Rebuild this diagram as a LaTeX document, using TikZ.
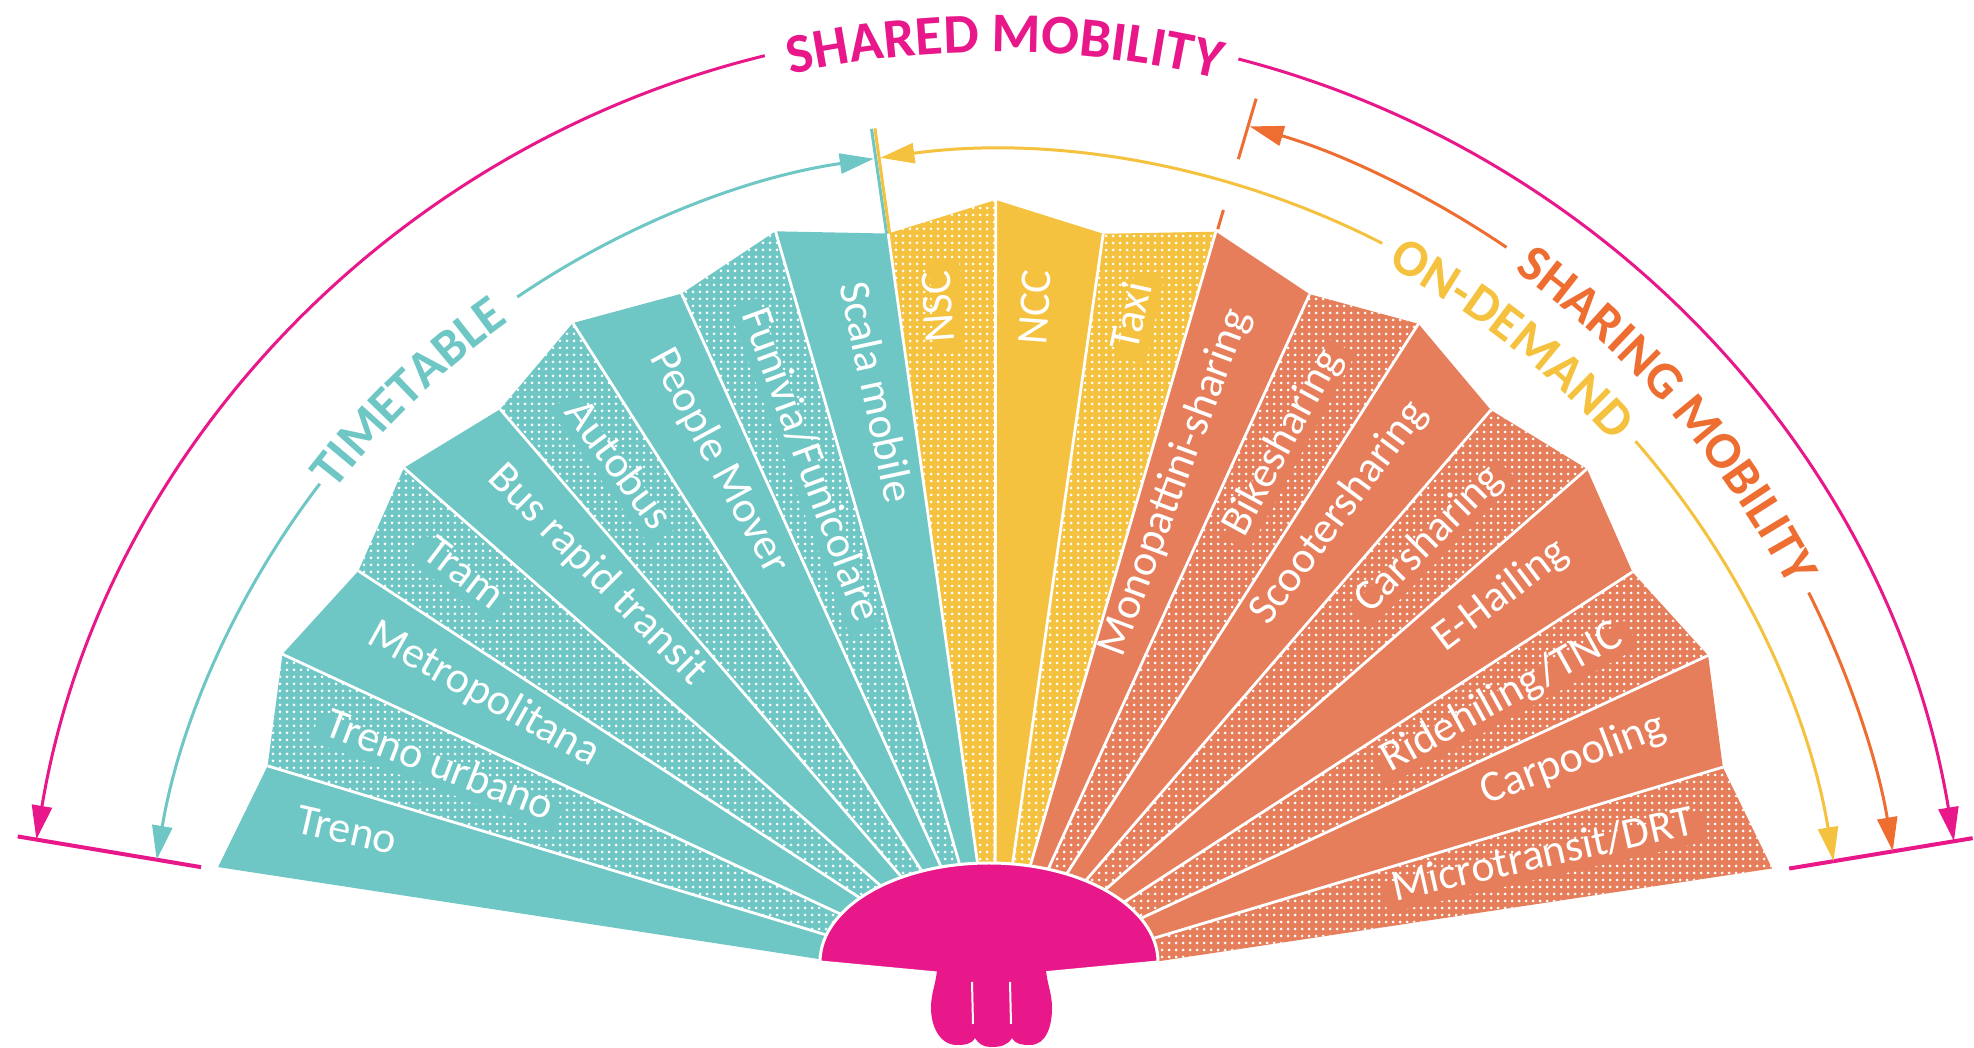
\documentclass[tikz,border=0pt]{standalone}
\usepackage{fontspec}
\setmainfont{Carlito}
\usepackage{tikz}
\usetikzlibrary{arrows.meta,calc,patterns.meta,decorations.text}
\definecolor{fan-tt}{RGB}{110,198,197}
\definecolor{fan-od}{RGB}{245,194,63}
\definecolor{fan-sh}{RGB}{230,126,91}
\definecolor{fan-sm}{RGB}{238,109,49}
\definecolor{fan-mg}{RGB}{232,23,138}
\newcommand{\titlefont}{\fontsize{28}{30}\selectfont\bfseries}
\newcommand{\headfont}{\fontsize{26}{28}\selectfont\bfseries}
\tikzstyle{dotblade}=[postaction={pattern={Dots[distance=3.5pt,radius=0.75pt]},pattern color=white}]
\tikzstyle{gap}=[draw=white,line width=1.4pt]
\tikzstyle{lbl}=[text=white,inner xsep=5pt,inner ysep=3pt,text height=0.7em,text depth=0.2em,font=\fontsize{22}{24}\selectfont]
\tikzstyle{reach}=[line width=1.5pt,-{Triangle[length=17pt,width=10pt]}]
\tikzstyle{tick}=[line width=1.5pt]
\tikzstyle{curved}=[decorate,decoration={text along path,text align=center}]

\begin{document}
\begin{tikzpicture}[x=0.5pt,y=0.5pt]
  \useasboundingbox (0,0) rectangle (1974,1048);
  \coordinate (c) at (995,62);
  \coordinate (o) at (995,48);

  % Blades
  \begin{scope}
    \clip (0,1048) -- (0,86) -- (820,86) -- (990,70) -- (1158,86) -- (1974,86) -- (1974,1048) -- cycle;
    \foreach \name/\col [count=\i from 0] in {Treno/fan-tt, Treno urbano/fan-tt, Metropolitana/fan-tt, Tram/fan-tt, Bus rapid transit/fan-tt, Autobus/fan-tt, People Mover/fan-tt, Funivia\slash Funicolare/fan-tt, Scala mobile/fan-tt, NSC/fan-od, NCC/fan-od, Taxi/fan-od, Monopattini-sharing/fan-sh, Bikesharing/fan-sh, Scootersharing/fan-sh, Carsharing/fan-sh, E-Hailing/fan-sh, Ridehiling\slash TNC/fan-sh, Carpooling/fan-sh, Microtransit\slash DRT/fan-sh} {
      \pgfmathsetmacro{\angA}{171.3-8.135*\i}
      \pgfmathsetmacro{\angB}{\angA-8.135}
      \pgfmathsetmacro{\angM}{\angA-4.0675}
      \pgfmathsetmacro{\radA}{isodd(\i) ? 760 : 786}
      \pgfmathsetmacro{\radB}{isodd(\i) ? 786 : 760}
      \ifodd\i
        \fill[\col,dotblade] (c) -- ($(c)+(\angA:\radA)$) -- ($(c)+(\angB:\radB)$) -- cycle;
      \else
        \fill[\col] (c) -- ($(c)+(\angA:\radA)$) -- ($(c)+(\angB:\radB)$) -- cycle;
      \fi
      \ifnum\i<9
        \node[lbl,fill=\col,anchor=west,rotate=\angM+180] (blade\i) at ($(c)+(\angM:728)$) {\name};
      \else
        \node[lbl,fill=\col,anchor=east,rotate=\angM] (blade\i) at ($(c)+(\angM:728)$) {\name};
      \fi
    }
    \foreach \i in {1,...,19} {
      \pgfmathsetmacro{\angA}{171.3-8.135*\i}
      \pgfmathsetmacro{\radA}{isodd(\i) ? 760 : 786}
      \draw[gap] (c) -- ($(c)+(\angA:\radA)$);
    }
  \end{scope}

  % Hub and handle
  \fill[fan-mg,draw=white,line width=1.5pt] (820,86) arc[start angle=180,end angle=0,x radius=169,y radius=99] -- (990,70) -- cycle;
  \fill[fan-mg] (937,78) to[out=-95,in=90] (931,40) to[out=-90,in=180] (957,3) to[out=0,in=-120] (975,10) to[out=-60,in=180] (991,1) to[out=0,in=-120] (1012,10) to[out=-60,in=180] (1030,3) to[out=0,in=-90] (1052,40) to[out=90,in=-85] (1046,78) -- cycle;
  \draw[white,line width=1pt] (972,66) -- (973,24);
  \draw[white,line width=1pt] (1010,66) -- (1011,24);

  % Ticks
  \draw[tick,fan-tt] ($(c)+(98.2:760)$) -- ($(c)+(98.2:866)$);
  \draw[tick,fan-od] ($(c)+(97.97:760)$) -- ($(c)+(97.97:866)$);
  \draw[tick,fan-sm] ($(c)+(73.6:862)$) -- ($(c)+(73.6:925)$);
  \draw[tick,fan-sm] ($(c)+(73.6:789)$) -- ($(c)+(73.6:809)$);
  \draw[fan-mg,line width=2pt] ($(o)+(170.5:805)$) -- ($(o)+(170.5:991)$);
  \draw[fan-mg,line width=2pt] ($(o)+(9.4:805)$) -- ($(o)+(9.4:991)$);

  % Shared mobility
  \draw[reach,fan-mg] ($(o)+(103.7:972)$) arc[start angle=103.7,end angle=170.5,radius=972];
  \draw[reach,fan-mg] ($(o)+(75.5:972)$) arc[start angle=75.5,end angle=9.4,radius=972];
  % Timetable
  \draw[reach,fan-tt] ($(o)+(142.6:850)$) arc[start angle=142.6,end angle=170.5,radius=850];
  \draw[reach,fan-tt] ($(o)+(124.2:850)$) arc[start angle=124.2,end angle=98.2,radius=850];
  % On-demand
  \draw[reach,fan-od] ($(o)+(62.9:850)$) arc[start angle=62.9,end angle=97.75,radius=850];
  \draw[reach,fan-od] ($(o)+(41.1:850)$) arc[start angle=41.1,end angle=9.4,radius=850];
  % Sharing mobility
  \draw[reach,fan-sm] ($(o)+(55.8:910)$) arc[start angle=55.8,end angle=73.75,radius=910];
  \draw[reach,fan-sm] ($(o)+(26.6:910)$) arc[start angle=26.6,end angle=9.4,radius=910];

  % Headings
  \path[curved,decoration={text={|\titlefont|SHARED MOBILITY},text color=fan-mg}] ($(o)+(104.4:948)$) arc[start angle=104.4,end angle=74.4,radius=948];
  \path[curved,decoration={text={|\headfont|TIMETABLE},text color=fan-tt}] ($(o)+(152:834)$) arc[start angle=152,end angle=116,radius=834];
  \path[curved,decoration={text={|\headfont|ON-DEMAND},text color=fan-od}] ($(o)+(70:832)$) arc[start angle=70,end angle=34,radius=832];
  \path[curved,decoration={text={|\headfont|SHARING MOBILITY},text color=fan-sm}] ($(o)+(66:895)$) arc[start angle=66,end angle=16,radius=895];
\end{tikzpicture}
\end{document}
